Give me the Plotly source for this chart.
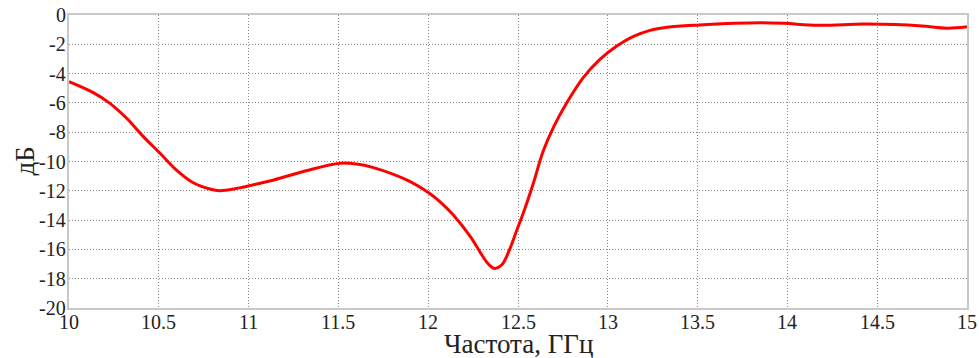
import plotly.graph_objects as go

freq = [10.0, 10.135, 10.228, 10.321, 10.414, 10.507, 10.6, 10.692, 10.785, 10.84, 10.93,
        11.06, 11.14, 11.32, 11.51, 11.60, 11.69, 11.88, 12.01, 12.066, 12.14, 12.233,
        12.30, 12.335, 12.37, 12.41, 12.45, 12.49, 12.53, 12.585, 12.64, 12.70, 12.77,
        12.86, 12.956, 13.05, 13.14, 13.235, 13.33, 13.51, 13.7, 13.85, 13.98, 14.17,
        14.42, 14.6, 14.75, 14.89, 15.0]
db = [-4.55, -5.3, -6.03, -7.05, -8.3, -9.44, -10.6, -11.45, -11.88, -11.99, -11.85,
      -11.5, -11.26, -10.63, -10.12, -10.17, -10.4, -11.26, -12.2, -12.75, -13.65, -15.1,
      -16.4, -17.0, -17.3, -17.05, -16.1, -14.8, -13.5, -11.5, -9.3, -7.6, -6.03,
      -4.32, -3.03, -2.12, -1.48, -1.05, -0.84, -0.68, -0.57, -0.53, -0.57, -0.7,
      -0.62, -0.65, -0.75, -0.9, -0.8]

x_ticks = [10, 10.5, 11, 11.5, 12, 12.5, 13, 13.5, 14, 14.5, 15]
x_labels = ["10", "10.5", "11", "11.5", "12", "12.5", "13", "13.5", "14", "14.5", "15"]
y_ticks = list(range(-20, 1, 2))
y_labels = [str(v) for v in y_ticks]

serif = "Liberation Serif"
text_color = "#222222"

fig = go.Figure(layout=dict(template="none"))
fig.add_trace(go.Scatter(x=freq, y=db, mode="lines",
                         line=dict(color="#ff0000", width=3, shape="spline", smoothing=1.0),
                         showlegend=False, hoverinfo="skip"))

axis_style = dict(showline=True, linecolor="#c8c8c8", linewidth=2, mirror=True,
                  showgrid=True, gridcolor="#8a8a8a", gridwidth=1, griddash="1px,2px",
                  zeroline=False, ticks="", showticklabels=False, automargin=False)

annotations = []
for v, t in zip(x_ticks, x_labels):
    annotations.append(dict(text=t, x=v, xref="x", y=0, yref="paper",
                            xanchor="center", yanchor="top", yshift=-1, showarrow=False,
                            font=dict(family=serif, size=20, color=text_color)))
for v, t in zip(y_ticks, y_labels):
    annotations.append(dict(text=t, x=0, xref="paper", y=v, yref="y",
                            xanchor="right", yanchor="middle", xshift=-1, showarrow=False,
                            font=dict(family=serif, size=20, color=text_color)))
annotations.append(dict(text="Частота, ГГц", x=0.5, y=-0.122, xref="paper", yref="paper",
                        xanchor="center", yanchor="middle", showarrow=False,
                        font=dict(family=serif, size=27, color=text_color)))
annotations.append(dict(text="дБ", x=-0.05, y=0.5, xref="paper", yref="paper",
                        xanchor="center", yanchor="middle", showarrow=False, textangle=-90,
                        font=dict(family=serif, size=27, color=text_color)))

fig.update_layout(
    width=979, height=358,
    margin=dict(l=69, r=12, t=15, b=50),
    paper_bgcolor="white", plot_bgcolor="white",
    font=dict(family=serif, size=20, color=text_color),
    xaxis=dict(range=[10, 15], tickmode="array", tickvals=x_ticks, **axis_style),
    yaxis=dict(range=[-20, 0], tickmode="array", tickvals=y_ticks, **axis_style),
    annotations=annotations,
)

fig.write_html("out.html")
